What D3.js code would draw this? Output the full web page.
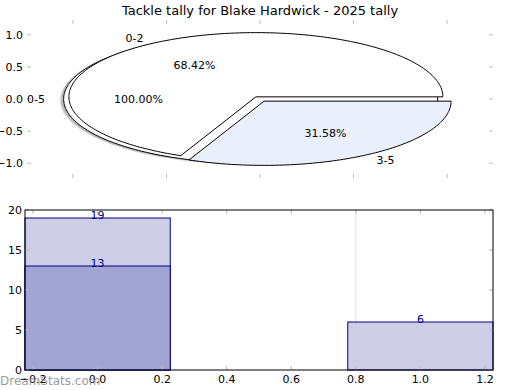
<!DOCTYPE html>
<html><head><meta charset="utf-8">
<script src="https://cdn.jsdelivr.net/npm/d3@7/dist/d3.min.js"></script>
<style>body{margin:0;background:#fff} text{font-family:"DejaVu Sans",sans-serif}</style>
</head><body>
<svg id="c" width="520" height="390"></svg>
<script>
const title = "Tackle tally for Blake Hardwick - 2025 tally";
const outerLabels = ["0-5"];
const outerValues = [19];
const innerLabels = ["0-2", "3-5"];
const innerValues = [13, 6];
const innerColors = ["#ffffff", "#eaf0fb"];
const barCategories = [0, 1];
const barTotals = [19, 6];
const barInnerCats = [0];
const barInnerValues = [13];
const pieXTicks = [-1, -0.5, 0, 0.5, 1];
const pieYTicks = [-1, -0.5, 0, 0.5, 1];
const barXTicks = [-0.2, 0, 0.2, 0.4, 0.6, 0.8, 1.0, 1.2];
const barYTicks = [0, 5, 10, 15, 20];

const svg = d3.select("#c");
const tickCol = "#bbbbbb";

// title
svg.append("text").attr("x", 260).attr("y", 15).attr("text-anchor", "middle")
  .attr("font-size", 13).attr("fill", "#000").text(title);

// ---------- PIE AXES ----------
const px = d3.scaleLinear().domain([-1.246, 1.246]).range([27, 493]);
const py = d3.scaleLinear().domain([-1.23, 1.23]).range([178, 20]);
const gp = svg.append("g");
const gpText = svg.append("g");

pieXTicks.forEach(t => {
  gp.append("line").attr("x1", px(t)).attr("x2", px(t)).attr("y1", 20).attr("y2", 24).attr("stroke", tickCol);
  gp.append("line").attr("x1", px(t)).attr("x2", px(t)).attr("y1", 174).attr("y2", 178).attr("stroke", tickCol);
});
pieYTicks.forEach(t => {
  gp.append("line").attr("x1", 27).attr("x2", 31).attr("y1", py(t)).attr("y2", py(t)).attr("stroke", tickCol);
  gp.append("line").attr("x1", 489).attr("x2", 493).attr("y1", py(t)).attr("y2", py(t)).attr("stroke", tickCol);
  gp.append("text").attr("x", 23).attr("y", py(t)).attr("dy", "0.36em").attr("text-anchor", "end")
    .attr("font-size", 11).text(d3.format(".1f")(t).replace("-", "\u2212"));
});

const line = d3.line();
function wedgePts(cx, cy, a0, a1, full) {
  const n = Math.max(8, Math.ceil((a1 - a0) / 0.02));
  const pts = d3.range(n + 1).map(i => {
    const a = a0 + (a1 - a0) * i / n;
    return [px(cx + Math.cos(a)), py(cy + Math.sin(a))];
  });
  if (!full) pts.unshift([px(cx), py(cy)]);
  return line(pts) + "Z";
}
const pie = d3.pie().sort(null).startAngle(0).endAngle(2 * Math.PI);

function drawPie(values, labels, colors, explode, shadow) {
  const total = d3.sum(values);
  pie(values).forEach((d, i) => {
    const mid = (d.startAngle + d.endAngle) / 2;
    const cx = explode * Math.cos(mid), cy = explode * Math.sin(mid);
    const full = (d.endAngle - d.startAngle) > 2 * Math.PI - 1e-6;
    if (shadow) {
      [[-0.022, -0.02, 0.12], [-0.017, -0.016, 0.15], [-0.012, -0.012, 0.2]].forEach(s => {
        gp.append("path").attr("d", wedgePts(cx + s[0], cy + s[1], d.startAngle, d.endAngle, full))
          .attr("fill", "#4d4d4d").attr("fill-opacity", s[2]).attr("stroke", "none");
      });
    }
    gp.append("path").attr("d", wedgePts(cx, cy, d.startAngle, d.endAngle, full))
      .attr("fill", colors[i]).attr("stroke", "#000").attr("stroke-width", 1);
    const lx = cx + 1.1 * Math.cos(mid), ly = cy + 1.1 * Math.sin(mid);
    gpText.append("text").attr("x", px(lx)).attr("y", py(ly)).attr("dy", "0.36em")
      .attr("text-anchor", Math.cos(mid) < -1e-9 ? "end" : "start").attr("font-size", 11).text(labels[i]);
    const tx = cx + 0.6 * Math.cos(mid), ty = cy + 0.6 * Math.sin(mid);
    gpText.append("text").attr("x", px(tx)).attr("y", py(ty)).attr("dy", "0.36em")
      .attr("text-anchor", "middle").attr("font-size", 11)
      .text(d3.format(".2f")(d.value / total * 100) + "%");
  });
}
drawPie(outerValues, outerLabels, ["#ffffff"], 0.05, true);
drawPie(innerValues, innerLabels, innerColors, 0.04, false);
gpText.raise();

// ---------- BAR AXES ----------
const bx = d3.scaleLinear().domain([-0.225, 1.225]).range([25, 493]);
const by = d3.scaleLinear().domain([0, 20]).range([370, 210]);
const gb = svg.append("g");
const bw = 0.45;

gb.append("line").attr("x1", bx(0.8)).attr("x2", bx(0.8)).attr("y1", 210).attr("y2", 370)
  .attr("stroke", "#c8c8c8").attr("stroke-dasharray", "1,1");

barCategories.forEach((c, i) => {
  gb.append("rect").attr("x", bx(c - bw / 2)).attr("y", by(barTotals[i]))
    .attr("width", bx(c + bw / 2) - bx(c - bw / 2)).attr("height", by(0) - by(barTotals[i]))
    .attr("fill", "#cdcde6").attr("stroke", "#000080").attr("stroke-width", 1);
});
barInnerCats.forEach((c, i) => {
  gb.append("rect").attr("x", bx(c - bw / 2)).attr("y", by(barInnerValues[i]))
    .attr("width", bx(c + bw / 2) - bx(c - bw / 2)).attr("height", by(0) - by(barInnerValues[i]))
    .attr("fill", "#a2a4d3").attr("stroke", "#000080").attr("stroke-width", 1);
});
barCategories.forEach((c, i) => {
  gb.append("text").attr("x", bx(c)).attr("y", by(barTotals[i]) + 1).attr("text-anchor", "middle")
    .attr("font-size", 11).attr("fill", "#000080").text(barTotals[i]);
});
barInnerCats.forEach((c, i) => {
  gb.append("text").attr("x", bx(c)).attr("y", by(barInnerValues[i]) + 1).attr("text-anchor", "middle")
    .attr("font-size", 11).attr("fill", "#000080").text(barInnerValues[i]);
});

barXTicks.forEach(t => {
  gb.append("line").attr("x1", bx(t)).attr("x2", bx(t)).attr("y1", 210).attr("y2", 214).attr("stroke", tickCol);
  gb.append("line").attr("x1", bx(t)).attr("x2", bx(t)).attr("y1", 366).attr("y2", 370).attr("stroke", tickCol);
  gb.append("text").attr("x", bx(t)).attr("y", 383).attr("text-anchor", "middle").attr("font-size", 11)
    .text(d3.format(".1f")(t).replace("-", "\u2212"));
});
barYTicks.forEach(t => {
  gb.append("line").attr("x1", 25).attr("x2", 29).attr("y1", by(t)).attr("y2", by(t)).attr("stroke", tickCol);
  gb.append("line").attr("x1", 489).attr("x2", 493).attr("y1", by(t)).attr("y2", by(t)).attr("stroke", tickCol);
  gb.append("text").attr("x", 22).attr("y", by(t)).attr("dy", "0.36em").attr("text-anchor", "end")
    .attr("font-size", 11).text(t);
});
gb.append("rect").attr("x", 25).attr("y", 210).attr("width", 468).attr("height", 160)
  .attr("fill", "none").attr("stroke", "#000").attr("stroke-width", 1);

svg.append("text").attr("x", 0).attr("y", 385).attr("font-size", 12).attr("fill", "#888")
  .attr("fill-opacity", 0.85).text("DreamStats.com");
</script>
</body></html>
